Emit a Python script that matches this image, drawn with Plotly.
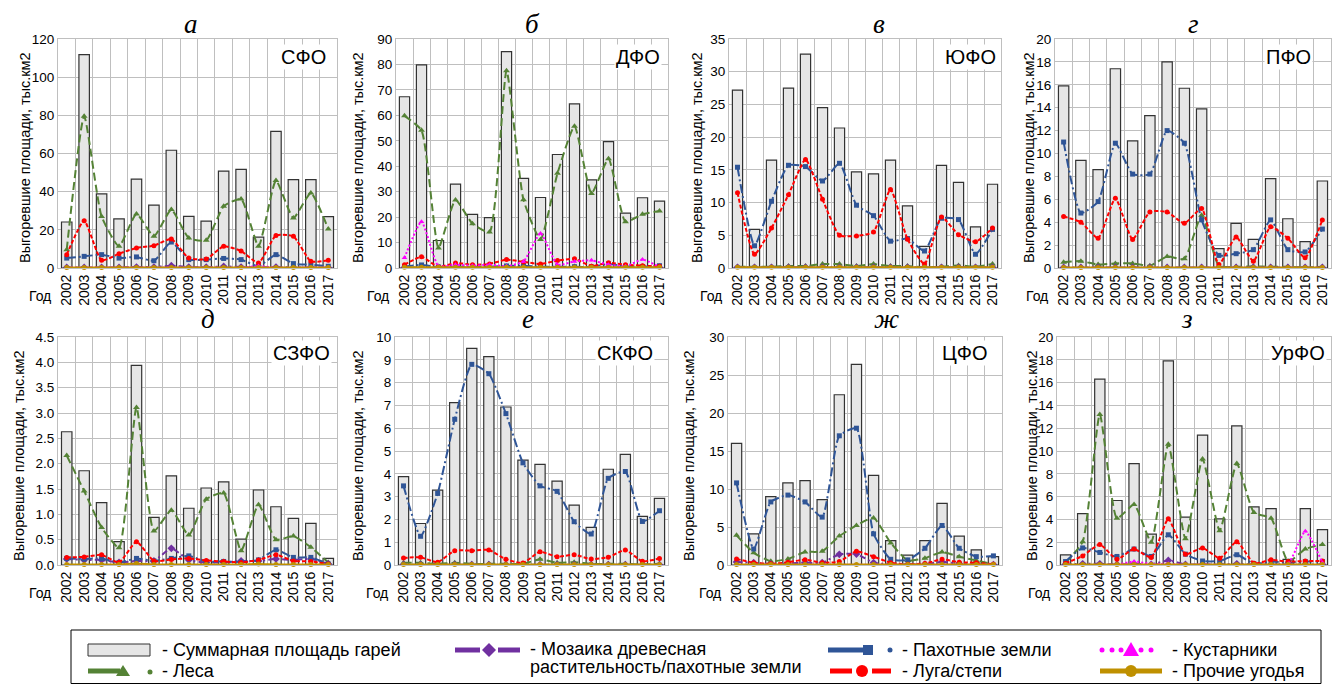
import plotly.graph_objects as go

W, H = 1335, 684
years = [str(y) for y in range(2002, 2018)]

# ---------------- data (тыс. км2) ----------------
# а — СФО
sfo_total  = [24.1, 111.8, 38.8, 25.7, 46.6, 33.0, 61.7, 27.1, 24.6, 50.8, 51.7, 16.2, 71.6, 46.3, 46.3, 26.9]
sfo_forest = [9.6, 79.5, 27.0, 11.4, 28.3, 16.6, 30.6, 15.7, 14.5, 32.3, 36.2, 11.4, 45.8, 26.2, 39.3, 20.4]
sfo_mosaic = [0.3, 0.3, 0.3, 0.3, 0.5, 0.5, 1.2, 0.5, 0.4, 0.8, 0.5, 0.3, 0.5, 0.3, 0.3, 0.2]
sfo_arable = [5.2, 6.1, 7.0, 5.2, 5.8, 3.8, 13.6, 4.4, 4.4, 5.0, 4.4, 0.9, 7.0, 2.3, 1.7, 0.9]
sfo_meadow = [7.0, 24.8, 4.0, 7.5, 10.5, 11.7, 15.2, 5.2, 4.7, 11.4, 8.9, 2.6, 17.0, 16.6, 3.5, 4.0]
sfo_shrub  = [0.2, 0.2, 0.2, 0.2, 0.2, 0.2, 0.2, 0.2, 0.2, 0.2, 0.2, 1.0, 0.2, 0.2, 0.2, 0.2]
sfo_other  = [0.3, 0.3, 0.3, 0.3, 0.3, 0.3, 0.3, 0.3, 0.3, 0.3, 0.3, 0.3, 0.3, 0.3, 0.3, 0.3]

# б — ДФО
dfo_total  = [67.3, 79.8, 10.8, 33.0, 21.1, 19.8, 85.0, 35.2, 27.7, 44.6, 64.5, 34.6, 49.7, 21.6, 27.6, 26.3]
dfo_forest = [59.8, 54.1, 7.9, 26.7, 17.4, 14.1, 77.5, 26.8, 11.2, 37.2, 55.7, 29.3, 42.9, 18.2, 21.1, 22.4]
dfo_mosaic = [0.2, 0.2, 0.2, 0.2, 0.2, 0.2, 0.2, 0.2, 0.2, 0.2, 0.2, 0.2, 0.2, 0.2, 0.2, 0.2]
dfo_arable = [0.6, 1.2, 0.4, 0.5, 0.5, 0.5, 0.8, 0.9, 0.5, 0.5, 0.5, 0.4, 1.6, 0.7, 0.5, 0.9]
dfo_meadow = [1.3, 4.4, 0.4, 2.0, 1.3, 1.6, 3.3, 2.4, 1.6, 2.9, 3.6, 0.7, 2.1, 1.3, 0.9, 0.7]
dfo_shrub  = [4.0, 18.2, 0.7, 1.3, 0.9, 1.3, 0.7, 2.6, 13.6, 1.3, 2.6, 3.0, 1.3, 0.7, 3.3, 0.4]
dfo_other  = [0.3, 0.3, 0.3, 0.3, 0.3, 0.3, 0.3, 0.3, 0.3, 0.3, 0.3, 0.3, 0.3, 0.3, 0.3, 0.3]

# в — ЮФО
yufo_total  = [27.2, 5.9, 16.5, 27.5, 32.7, 24.5, 21.4, 14.7, 14.4, 16.5, 9.5, 3.3, 15.7, 13.1, 6.3, 12.8]
yufo_forest = [0.2, 0.2, 0.2, 0.3, 0.3, 0.6, 0.6, 0.3, 0.6, 0.3, 0.3, 0.1, 0.2, 0.4, 0.2, 0.6]
yufo_mosaic = [0.1, 0.1, 0.1, 0.1, 0.1, 0.1, 0.1, 0.1, 0.1, 0.1, 0.1, 0.1, 0.1, 0.1, 0.1, 0.1]
yufo_arable = [15.4, 3.4, 10.2, 15.7, 15.5, 13.3, 16.0, 9.6, 8.0, 4.1, 4.5, 2.6, 7.6, 7.4, 2.1, 5.9]
yufo_meadow = [11.5, 2.1, 6.1, 11.2, 16.6, 10.5, 5.0, 4.9, 5.5, 12.0, 4.4, 0.6, 7.8, 5.1, 4.0, 6.1]
yufo_shrub  = [0.05, 0.05, 0.05, 0.05, 0.05, 0.05, 0.05, 0.05, 0.05, 0.05, 0.05, 0.05, 0.05, 0.05, 0.05, 0.05]
yufo_other  = [0.1, 0.1, 0.1, 0.1, 0.1, 0.1, 0.1, 0.1, 0.1, 0.1, 0.1, 0.1, 0.1, 0.1, 0.1, 0.1]

# г — ПФО
pfo_total  = [15.9, 9.4, 8.6, 17.4, 11.1, 13.3, 18.0, 15.7, 13.9, 1.7, 3.9, 2.5, 7.8, 4.3, 2.3, 7.6]
pfo_forest = [0.5, 0.6, 0.3, 0.4, 0.4, 0.2, 1.0, 0.8, 4.6, 0.2, 0.1, 0.15, 0.1, 0.1, 0.05, 0.1]
pfo_mosaic = [0.05, 0.05, 0.05, 0.05, 0.05, 0.05, 0.05, 0.05, 0.05, 0.05, 0.05, 0.05, 0.05, 0.05, 0.05, 0.05]
pfo_arable = [11.0, 4.8, 5.8, 10.9, 8.2, 8.2, 12.0, 10.9, 4.2, 1.1, 1.25, 1.6, 4.2, 1.6, 1.4, 3.4]
pfo_meadow = [4.5, 4.0, 2.6, 6.1, 2.5, 4.9, 4.9, 3.9, 5.2, 0.3, 2.7, 0.6, 3.6, 2.6, 0.9, 4.2]
pfo_shrub  = [0.02, 0.02, 0.02, 0.02, 0.02, 0.02, 0.02, 0.02, 0.02, 0.02, 0.02, 0.02, 0.02, 0.02, 0.02, 0.02]
pfo_other  = [0.05, 0.05, 0.05, 0.05, 0.05, 0.05, 0.05, 0.05, 0.05, 0.05, 0.05, 0.05, 0.05, 0.05, 0.05, 0.05]

# д — СЗФО
szfo_total  = [2.63, 1.86, 1.23, 0.46, 3.94, 0.94, 1.76, 1.12, 1.52, 1.64, 0.51, 1.48, 1.15, 0.92, 0.82, 0.13]
szfo_forest = [2.16, 1.46, 0.74, 0.34, 3.11, 0.67, 1.08, 0.59, 1.30, 1.42, 0.28, 1.19, 0.50, 0.57, 0.35, 0.05]
szfo_mosaic = [0.12, 0.10, 0.10, 0.05, 0.08, 0.08, 0.33, 0.10, 0.05, 0.05, 0.08, 0.08, 0.12, 0.10, 0.12, 0.02]
szfo_arable = [0.13, 0.12, 0.13, 0.05, 0.13, 0.08, 0.13, 0.18, 0.07, 0.07, 0.06, 0.10, 0.30, 0.15, 0.15, 0.02]
szfo_meadow = [0.15, 0.16, 0.20, 0.05, 0.46, 0.08, 0.11, 0.13, 0.09, 0.07, 0.05, 0.10, 0.20, 0.08, 0.07, 0.02]
szfo_shrub  = [0.0, 0.0, 0.0, 0.0, 0.0, 0.0, 0.0, 0.0, 0.0, 0.0, 0.0, 0.0, 0.0, 0.0, 0.0, 0.0]
szfo_other  = [0.01, 0.01, 0.01, 0.01, 0.03, 0.01, 0.01, 0.01, 0.01, 0.01, 0.01, 0.02, 0.01, 0.01, 0.01, 0.01]

# е — СКФО
skfo_total  = [3.88, 1.82, 3.28, 7.12, 9.50, 9.14, 6.93, 4.60, 4.41, 3.68, 2.63, 1.65, 4.20, 4.85, 2.13, 2.92]
skfo_forest = [0.10, 0.10, 0.05, 0.10, 0.05, 0.05, 0.05, 0.05, 0.25, 0.10, 0.12, 0.05, 0.05, 0.05, 0.02, 0.05]
skfo_mosaic = [0.01, 0.01, 0.01, 0.01, 0.01, 0.01, 0.01, 0.01, 0.01, 0.01, 0.01, 0.01, 0.01, 0.01, 0.01, 0.01]
skfo_arable = [3.47, 1.26, 3.14, 6.39, 8.80, 8.39, 6.64, 4.48, 3.47, 3.23, 1.90, 1.36, 3.80, 4.10, 1.91, 2.38]
skfo_meadow = [0.31, 0.34, 0.12, 0.63, 0.63, 0.66, 0.25, 0.09, 0.58, 0.36, 0.45, 0.26, 0.34, 0.66, 0.16, 0.29]
skfo_shrub  = [0.0, 0.0, 0.0, 0.0, 0.0, 0.0, 0.0, 0.0, 0.0, 0.0, 0.0, 0.0, 0.0, 0.0, 0.0, 0.0]
skfo_other  = [0.02, 0.02, 0.02, 0.02, 0.02, 0.02, 0.02, 0.02, 0.02, 0.02, 0.02, 0.02, 0.02, 0.02, 0.02, 0.02]

# ж — ЦФО
cfo_total  = [16.0, 4.1, 9.0, 10.8, 11.1, 8.6, 22.4, 26.4, 11.8, 3.2, 1.3, 3.2, 8.1, 3.8, 2.0, 1.1]
cfo_forest = [3.9, 1.6, 0.5, 0.8, 1.7, 1.8, 3.8, 5.2, 6.2, 2.9, 0.6, 0.9, 1.7, 1.1, 0.6, 0.1]
cfo_mosaic = [0.4, 0.3, 0.1, 0.2, 0.3, 0.3, 1.4, 1.45, 0.3, 0.1, 0.05, 0.1, 0.4, 0.2, 0.1, 0.05]
cfo_arable = [10.8, 2.1, 8.3, 9.2, 8.3, 6.3, 17.0, 18.0, 4.1, 0.75, 0.67, 2.2, 5.2, 2.2, 1.1, 1.2]
cfo_meadow = [0.8, 0.3, 0.15, 0.35, 0.7, 0.3, 0.45, 1.8, 1.1, 0.3, 0.1, 0.2, 0.75, 0.35, 0.3, 0.1]
cfo_shrub  = [0.02, 0.02, 0.02, 0.02, 0.02, 0.02, 0.02, 0.02, 0.02, 0.02, 0.02, 0.02, 0.02, 0.02, 0.02, 0.02]
cfo_other  = [0.05, 0.05, 0.05, 0.05, 0.05, 0.05, 0.05, 0.05, 0.05, 0.05, 0.05, 0.05, 0.05, 0.05, 0.05, 0.05]

# з — УрФО
urfo_total  = [0.88, 4.5, 16.3, 5.66, 8.9, 2.7, 17.9, 4.2, 11.4, 4.05, 12.2, 5.1, 4.95, 0.5, 4.95, 3.1]
urfo_forest = [0.2, 2.05, 13.2, 4.1, 5.3, 2.0, 10.6, 2.3, 9.3, 3.0, 8.9, 4.6, 4.1, 0.3, 1.4, 1.8]
urfo_mosaic = [0.05, 0.1, 0.1, 0.05, 0.1, 0.05, 0.4, 0.05, 0.05, 0.05, 0.1, 0.05, 0.05, 0.05, 0.05, 0.05]
urfo_arable = [0.3, 1.5, 1.1, 0.75, 1.4, 0.75, 2.65, 0.95, 0.35, 0.35, 0.9, 0.1, 0.3, 0.2, 0.3, 0.3]
urfo_meadow = [0.15, 0.8, 1.8, 0.5, 1.4, 0.65, 4.05, 0.95, 1.5, 0.6, 2.05, 0.15, 0.45, 0.3, 0.35, 0.35]
urfo_shrub  = [0.0, 0.0, 0.0, 0.05, 0.3, 0.1, 0.1, 0.0, 0.05, 0.0, 0.0, 0.0, 0.0, 0.1, 2.95, 0.2]
urfo_other  = [0.05, 0.05, 0.05, 0.05, 0.05, 0.05, 0.05, 0.05, 0.05, 0.05, 0.05, 0.05, 0.05, 0.05, 0.05, 0.05]

region_names = ["СФО", "ДФО", "ЮФО", "ПФО", "СЗФО", "СКФО", "ЦФО", "УрФО"]
panel_letters = ["а", "б", "в", "г", "д", "е", "ж", "з"]
y_max = [120, 90, 35, 20, 4.5, 10, 30, 20]
y_step = [20, 10, 5, 2, 0.5, 1, 5, 2]

panels = [
    (sfo_total, sfo_forest, sfo_mosaic, sfo_arable, sfo_meadow, sfo_shrub, sfo_other),
    (dfo_total, dfo_forest, dfo_mosaic, dfo_arable, dfo_meadow, dfo_shrub, dfo_other),
    (yufo_total, yufo_forest, yufo_mosaic, yufo_arable, yufo_meadow, yufo_shrub, yufo_other),
    (pfo_total, pfo_forest, pfo_mosaic, pfo_arable, pfo_meadow, pfo_shrub, pfo_other),
    (szfo_total, szfo_forest, szfo_mosaic, szfo_arable, szfo_meadow, szfo_shrub, szfo_other),
    (skfo_total, skfo_forest, skfo_mosaic, skfo_arable, skfo_meadow, skfo_shrub, skfo_other),
    (cfo_total, cfo_forest, cfo_mosaic, cfo_arable, cfo_meadow, cfo_shrub, cfo_other),
    (urfo_total, urfo_forest, urfo_mosaic, urfo_arable, urfo_meadow, urfo_shrub, urfo_other),
]

# ---------------- layout geometry (pixels) ----------------
def X(px):
    return px / W

def Y(py):
    return 1 - py / H

plot_x = [(58, 337), (396, 668), (729, 1001), (1055, 1331),
          (58, 337), (395, 668), (728, 1002), (1057, 1331)]
row_y = [(39, 268), (337, 565)]
letter_pos = [(191, 24), (532, 24), (879, 24), (1193, 24),
              (208, 319), (528, 319), (886, 319), (1187, 319)]
region_right = [328, 662, 998, 1313, 332, 655, 990, 1327]
ytitle_x = [25, 358, 697, 1029, 19, 358, 689, 1032]
ytitle_y = [158, 456]

GREEN = "#548235"
PURPLE = "#7030A0"
BLUE = "#2F5597"
RED = "#FF0000"
MAGENTA = "#FF00FF"
GOLD = "#BF9000"
GRID = "#BFBFBF"
FONT = "Liberation Sans, Arial, sans-serif"
SERIF = "Liberation Serif, Times New Roman, serif"

series_style = [
    # (color, dash, symbol, size)
    (GREEN, "8px,4px", "triangle-up", 6),
    (PURPLE, "6px,3px,2px,3px", "diamond", 6),
    (BLUE, "9px,3px,2px,3px", "square", 5),
    (RED, "4px,2px", "circle", 5),
    (MAGENTA, "2px,2px", "triangle-up", 5),
    (GOLD, "solid", "circle", 5),
]

fig = go.Figure()
annotations = []
shapes = []

for i, data in enumerate(panels):
    n = i + 1
    xa = "x" if n == 1 else f"x{n}"
    ya = "y" if n == 1 else f"y{n}"
    total = data[0]
    fig.add_trace(go.Bar(
        x=years, y=total, xaxis=xa, yaxis=ya, width=0.6,
        marker=dict(color="#E6E6E6", line=dict(color="#333333", width=1.2)),
        showlegend=False, hoverinfo="x+y"))
    for k, ser in enumerate(data[1:]):
        color, dash, symbol, size = series_style[k]
        fig.add_trace(go.Scatter(
            x=years, y=ser, xaxis=xa, yaxis=ya, mode="lines+markers",
            line=dict(color=color, width=2, dash=dash, shape="spline", smoothing=0.5),
            marker=dict(symbol=symbol, size=size, color=color),
            cliponaxis=(k != 5), showlegend=False))

    r = 0 if i < 4 else 1
    x0, x1 = plot_x[i]
    y0, y1 = row_y[r]
    fig.layout[f"xaxis{n}" if n > 1 else "xaxis"] = dict(
        domain=[X(x0), X(x1)], anchor=ya, type="category",
        categoryorder="array", categoryarray=years,
        tickmode="array", tickvals=years, ticktext=years,
        tickson="boundaries", range=[-0.5, 15.5],
        showgrid=True, gridcolor=GRID, gridwidth=1,
        showline=True, linecolor=GRID, mirror=True, linewidth=1,
        ticks="", tickangle=-90, tickfont=dict(size=14, color="black", family=FONT),
        automargin=False, fixedrange=True)
    fig.layout[f"yaxis{n}" if n > 1 else "yaxis"] = dict(
        domain=[Y(y1), Y(y0)], anchor=xa, range=[0, y_max[i]],
        tick0=0, dtick=y_step[i], tickformat=".1f" if i == 4 else "",
        showgrid=True, gridcolor=GRID, gridwidth=1, zeroline=False,
        showline=True, linecolor=GRID, mirror=True, linewidth=1,
        ticks="", tickfont=dict(size=13.5, color="black", family=FONT),
        automargin=False, fixedrange=True)

    lx, ly = letter_pos[i]
    annotations.append(dict(
        text=f"<i>{panel_letters[i]}</i>", x=X(lx), y=Y(ly), xref="paper", yref="paper",
        xanchor="center", yanchor="middle", showarrow=False,
        font=dict(family=SERIF, size=27, color="black")))
    annotations.append(dict(
        text=region_names[i], x=X(region_right[i]), y=Y(57 if r == 0 else 353),
        xref="paper", yref="paper", xanchor="right", yanchor="middle",
        showarrow=False, bgcolor="white", borderpad=1,
        font=dict(family=FONT, size=20, color="black")))
    annotations.append(dict(
        text="Выгоревшие площади, тыс.км2", x=X(ytitle_x[i]), y=Y(ytitle_y[r]),
        xref="paper", yref="paper", xanchor="center", yanchor="middle",
        textangle=-90, showarrow=False,
        font=dict(family=FONT, size=14.5, color="black")))
    annotations.append(dict(
        text="Год", x=X(x0 - 5), y=Y(y1 + 28), xref="paper", yref="paper",
        xanchor="right", yanchor="middle", showarrow=False,
        font=dict(family=FONT, size=14, color="black")))

# ---------------- legend (drawn as decoration) ----------------
def line_seg(xa, xb, yy, color, width=5, dash="solid"):
    shapes.append(dict(type="line", xref="paper", yref="paper",
                       x0=X(xa), x1=X(xb), y0=Y(yy), y1=Y(yy),
                       line=dict(color=color, width=width, dash=dash)))

def circle(cx, cy, rr, color):
    shapes.append(dict(type="circle", xref="paper", yref="paper",
                       x0=X(cx - rr), x1=X(cx + rr), y0=Y(cy + rr), y1=Y(cy - rr),
                       fillcolor=color, line=dict(color=color, width=0)))

def poly(points, color):
    p = "M " + " L ".join(f"{X(px):.5f},{Y(py):.5f}" for px, py in points) + " Z"
    shapes.append(dict(type="path", xref="paper", yref="paper", path=p,
                       fillcolor=color, line=dict(color=color, width=0)))

def legend_text(txt, px, py):
    annotations.append(dict(text=txt, x=X(px), y=Y(py), xref="paper", yref="paper",
                            xanchor="left", yanchor="middle", showarrow=False,
                            font=dict(family=FONT, size=18, color="black")))

# frame
shapes.append(dict(type="rect", xref="paper", yref="paper",
                   x0=X(71), x1=X(1321), y0=Y(683.5), y1=Y(630),
                   line=dict(color="black", width=1), fillcolor="rgba(0,0,0,0)"))
R1, R2 = 650, 671
# col 1
shapes.append(dict(type="rect", xref="paper", yref="paper",
                   x0=X(88), x1=X(150), y0=Y(656), y1=Y(644),
                   fillcolor="#E6E6E6", line=dict(color="#333333", width=1)))
legend_text("- Суммарная площадь гарей", 160, R1)
line_seg(88, 120, R2, GREEN)
poly([(116, R2 + 5), (130, R2 + 5), (123, R2 - 6)], GREEN)
circle(150, R2 + 1, 2.5, GREEN)
legend_text("- Леса", 160, R2)
# col 2
line_seg(455, 480, R1, PURPLE)
poly([(489, R1 - 7), (496, R1), (489, R1 + 7), (482, R1)], PURPLE)
line_seg(498, 520, R1, PURPLE)
legend_text("- Мозаика древесная", 528, R1 - 1)
legend_text("растительность/пахотные земли", 528, R2 - 4)
# col 3
line_seg(828, 864, R1, BLUE)
poly([(863, R1 - 5), (873, R1 - 5), (873, R1 + 5), (863, R1 + 5)], BLUE)
circle(890, R1, 2.5, BLUE)
legend_text("- Пахотные земли", 900, R1)
line_seg(830, 852, R2, RED)
circle(862, R2, 6, RED)
line_seg(872, 891, R2, RED)
legend_text("- Луга/степи", 900, R2)
# col 4
for cx in (1102, 1112, 1121, 1141, 1151):
    circle(cx, R1, 2.5, MAGENTA)
poly([(1123, R1 + 6), (1139, R1 + 6), (1131, R1 - 8)], MAGENTA)
legend_text("- Кустарники", 1170, R1)
line_seg(1100, 1162, R2, GOLD)
circle(1131, R2, 6, GOLD)
legend_text("- Прочие угодья", 1170, R2)

fig.update_layout(
    width=W, height=H, autosize=False,
    margin=dict(l=0, r=0, t=0, b=0, pad=0),
    paper_bgcolor="white", plot_bgcolor="white",
    font=dict(family=FONT, color="black"),
    barmode="overlay", showlegend=False,
    annotations=annotations, shapes=shapes,
)

fig.write_html("out.html", config={"displayModeBar": False})
